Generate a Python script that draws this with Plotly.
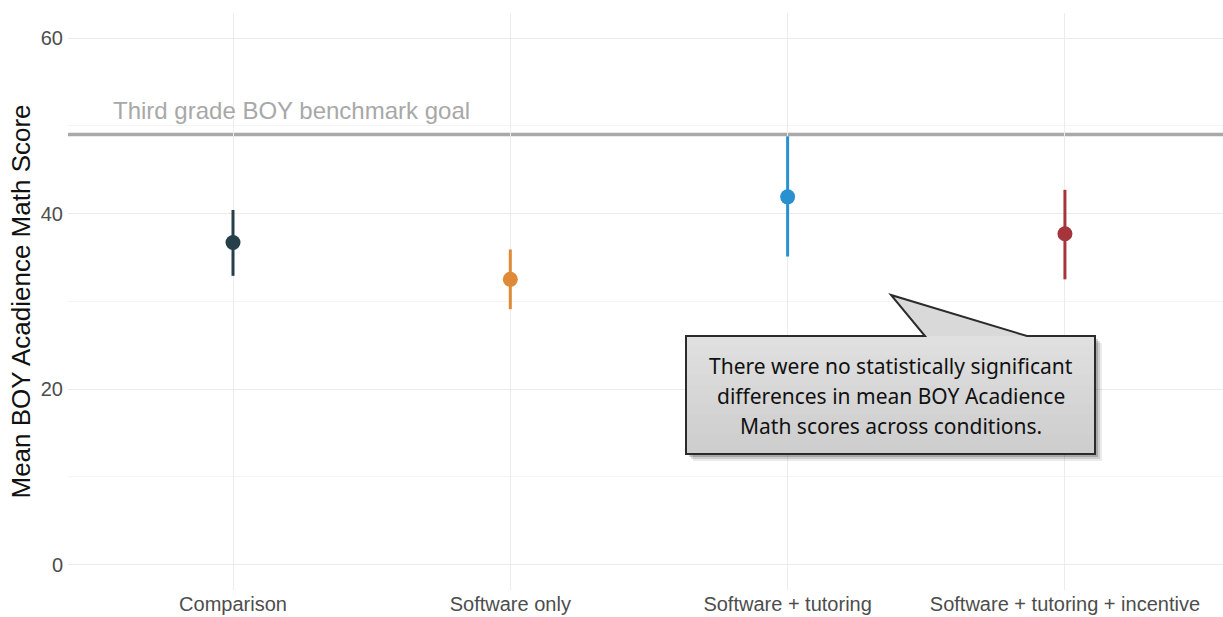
import plotly.graph_objects as go

categories = ["Comparison", "Software only", "Software + tutoring", "Software + tutoring + incentive"]
means = [36.7, 32.5, 41.9, 37.7]
upper = [40.4, 35.9, 48.8, 42.7]
lower = [32.9, 29.1, 35.1, 32.5]
colors = ["#273f48", "#df8a38", "#2a91d0", "#a5353a"]
benchmark = 49
benchmark_label = "Third grade BOY benchmark goal"
y_ticks = [0, 20, 40, 60]
callout_lines = ["There were no statistically significant",
                 "differences in mean BOY Acadience",
                 "Math scores across conditions."]

W, H = 1223, 617
L, R, T, B = 68, 0, 13, 27
XR = [-0.595, 3.57]
YR = [-2.9, 62.85]

def px2x(px):
    return XR[0] + (px - L) / (W - L - R) * (XR[1] - XR[0])

def py2y(py):
    return YR[1] - (py - T) / (H - T - B) * (YR[1] - YR[0])

fig = go.Figure()

xs = list(range(len(categories)))
for i, c in enumerate(categories):
    fig.add_trace(go.Scatter(
        x=[i], y=[means[i]], mode="markers",
        marker=dict(size=15, color=colors[i]),
        error_y=dict(type="data", symmetric=False,
                     array=[upper[i] - means[i]], arrayminus=[means[i] - lower[i]],
                     color=colors[i], thickness=3, width=0),
        showlegend=False, hoverinfo="skip"))

# benchmark line
fig.add_shape(type="line", xref="paper", x0=0, x1=1, yref="y", y0=benchmark, y1=benchmark,
              line=dict(color="#a9a9a9", width=3.5), layer="below")
fig.add_annotation(x=px2x(111), y=py2y(110), xref="x", yref="y", text=benchmark_label,
                   showarrow=False, xanchor="left", yanchor="middle",
                   font=dict(family="Liberation Sans", size=24, color="#a8a8a8"))

# callout
bx0, bx1, by0, by1 = 686, 1095, 336, 454
tipx, tipy = 891, 295
b1, b2 = 925, 1027

def path(points):
    s = "M " + " L ".join(f"{px2x(a)},{py2y(b)}" for a, b in points) + " Z"
    return s

outline = [(bx0, by0), (b1, by0), (tipx, tipy), (b2, by0), (bx1, by0), (bx1, by1), (bx0, by1)]
# shadow
for off, alpha in [(7, 0.08), (5, 0.12), (3, 0.18)]:
    fig.add_shape(type="path", xref="x", yref="y",
                  path=path([(bx0 + off, by0 + off), (bx1 + off, by0 + off), (bx1 + off, by1 + off), (bx0 + off, by1 + off)]),
                  fillcolor=f"rgba(0,0,0,{alpha})", line=dict(width=0))
fig.add_shape(type="path", xref="x", yref="y", path=path(outline),
              fillcolor="#d9d9d9", line=dict(width=0))
# gradient bands
nb = 12
for k in range(nb):
    ya = by0 + (by1 - by0) * k / nb
    yb = by0 + (by1 - by0) * (k + 1) / nb
    g = int(224 - (224 - 206) * k / (nb - 1))
    fig.add_shape(type="path", xref="x", yref="y",
                  path=path([(bx0, ya), (bx1, ya), (bx1, yb + 0.5), (bx0, yb + 0.5)]),
                  fillcolor=f"rgb({g},{g},{g})", line=dict(width=0))
fig.add_shape(type="path", xref="x", yref="y", path=path(outline),
              fillcolor="rgba(0,0,0,0)", line=dict(color="#2b2b2b", width=2))
for j, (line, ypx) in enumerate(zip(callout_lines, [366, 396, 426])):
    fig.add_annotation(x=px2x((bx0 + bx1) / 2), y=py2y(ypx), xref="x", yref="y",
                       text=line, showarrow=False, align="center",
                       xanchor="center", yanchor="middle",
                       font=dict(family="Noto Sans", size=21, color="#111111"))

fig.update_layout(
    width=W, height=H, margin=dict(l=L, r=R, t=T, b=B),
    plot_bgcolor="white", paper_bgcolor="white",
    xaxis=dict(range=XR, tickmode="array", tickvals=xs, ticktext=categories,
               showgrid=True, gridcolor="#ececec", gridwidth=1, zeroline=False,
               showline=False, ticks="", tickfont=dict(family="Liberation Sans", size=20, color="#4d4d4d")),
    yaxis=dict(range=YR, tickmode="array", tickvals=y_ticks,
               showgrid=True, gridcolor="#ebebeb", gridwidth=1, zeroline=False,
               showline=False, ticks="", ticklabelstandoff=4,
               minor=dict(tickvals=[10, 30, 50], showgrid=True, gridcolor="#f5f5f5", gridwidth=1),
               tickfont=dict(family="Liberation Sans", size=20, color="#4d4d4d"),
               title=dict(text="Mean BOY Acadience Math Score", standoff=2,
                          font=dict(family="Liberation Sans", size=26, color="#111111"))),
)

fig.write_html("out.html")
